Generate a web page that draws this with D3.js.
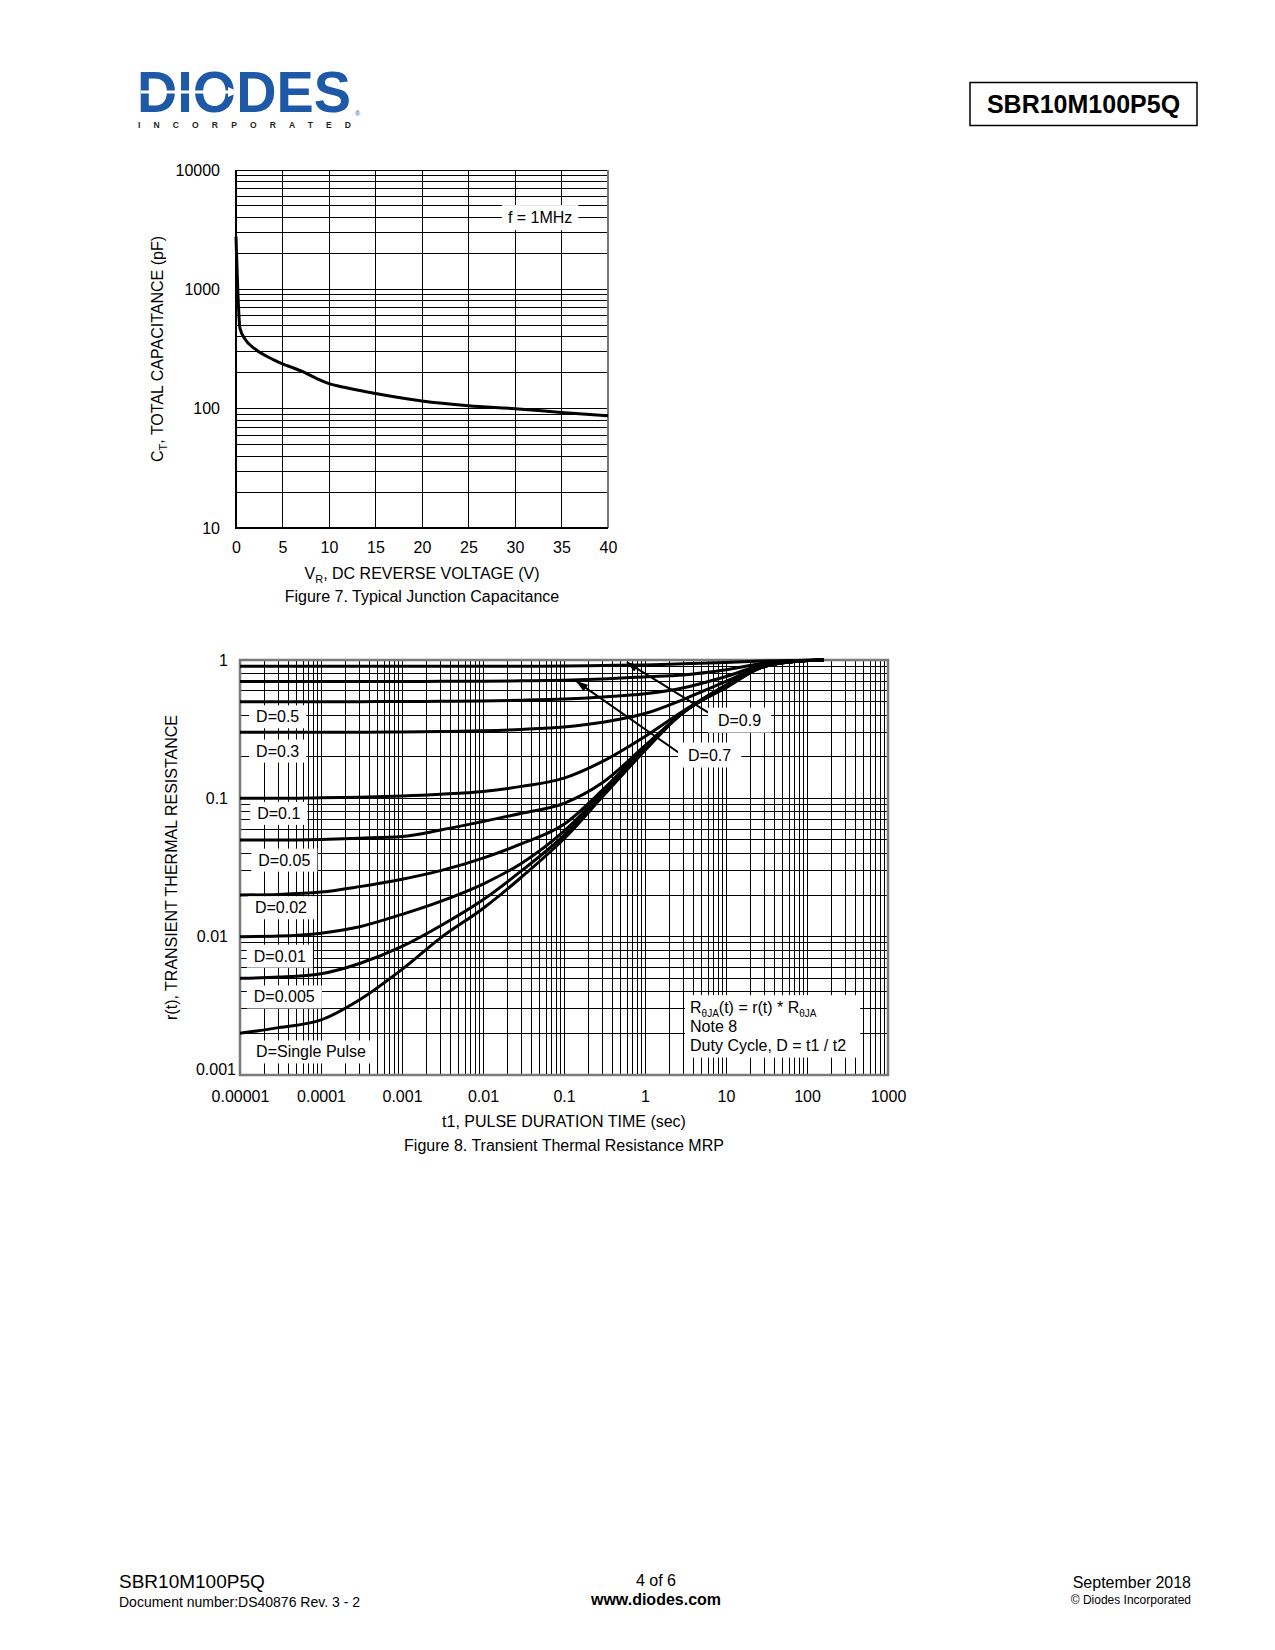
<!DOCTYPE html>
<html>
<head>
<meta charset="utf-8">
<script src="https://cdn.jsdelivr.net/npm/d3@7"></script>
<style>
  body { margin: 0; background: #fff; }
  svg { display: block; font-family: "Liberation Sans", Arial, Helvetica, sans-serif; }
</style>
</head>
<body>
<div id="page"></div>
<script>
// ---- Figure 7 data (junction capacitance) ----
var capVolt = [0, 0.43, 1, 2, 3, 4, 5, 6, 7, 8, 9, 10, 12, 15, 20, 25, 30, 35, 40];
var capPF   = [2750, 470, 380, 318, 283, 258, 237, 222, 207, 190, 174, 162, 149, 134, 116, 106, 100, 93, 87];
var capXTicks = [0, 5, 10, 15, 20, 25, 30, 35, 40];
var capYTicks = [10, 100, 1000, 10000];

// ---- Figure 8 data (transient thermal resistance) ----
var pulseTime = [0.00001, 0.00003, 0.0001, 0.0003, 0.001, 0.003, 0.01, 0.03, 0.1, 0.3, 1, 3, 10, 30, 100, 160];
var rD09   = [0.9, 0.9, 0.9, 0.9, 0.9, 0.9, 0.9, 0.902, 0.905, 0.912, 0.922, 0.94, 0.96, 0.982, 0.997, 1];
var rD07   = [0.7, 0.7, 0.7, 0.7, 0.7, 0.701, 0.703, 0.707, 0.715, 0.73, 0.755, 0.78, 0.85, 0.95, 0.995, 1];
var rD05   = [0.5, 0.5, 0.5, 0.5, 0.501, 0.503, 0.506, 0.512, 0.522, 0.54, 0.57, 0.63, 0.76, 0.93, 0.993, 1];
var rD03   = [0.3, 0.3, 0.3, 0.3, 0.302, 0.304, 0.308, 0.315, 0.328, 0.355, 0.41, 0.52, 0.7, 0.91, 0.99, 1];
var rD01   = [0.1, 0.1, 0.101, 0.102, 0.104, 0.107, 0.112, 0.122, 0.14, 0.185, 0.28, 0.43, 0.66, 0.9, 0.99, 1];
var rD005  = [0.05, 0.05, 0.0505, 0.0515, 0.053, 0.059, 0.068, 0.078, 0.092, 0.13, 0.24, 0.42, 0.65, 0.9, 0.99, 1];
var rD002  = [0.02, 0.0202, 0.021, 0.023, 0.026, 0.03, 0.037, 0.047, 0.065, 0.115, 0.235, 0.42, 0.645, 0.9, 0.99, 1];
var rD001  = [0.01, 0.0101, 0.0106, 0.0118, 0.0145, 0.018, 0.024, 0.034, 0.058, 0.11, 0.23, 0.42, 0.64, 0.9, 0.99, 1];
var rD0005 = [0.005, 0.0051, 0.0054, 0.0064, 0.0085, 0.012, 0.0185, 0.03, 0.054, 0.106, 0.226, 0.42, 0.635, 0.9, 0.99, 1];
var rSingle = [0.002, 0.0022, 0.0025, 0.0035, 0.0058, 0.0098, 0.016, 0.027, 0.051, 0.103, 0.222, 0.42, 0.63, 0.9, 0.99, 1];
var rSeries = [rD09, rD07, rD05, rD03, rD01, rD005, rD002, rD001, rD0005, rSingle];

var rthXTicks  = [0.00001, 0.0001, 0.001, 0.01, 0.1, 1, 10, 100, 1000];
var rthXLabels = ["0.00001", "0.0001", "0.001", "0.01", "0.1", "1", "10", "100", "1000"];
var rthYTicks  = [0.001, 0.01, 0.1, 1];
var rthYLabels = ["0.001", "0.01", "0.1", "1"];

// curve labels: text, t (left edge), r (centre)
var curveLabels = ["D=0.5", "D=0.3", "D=0.1", "D=0.05", "D=0.02", "D=0.01", "D=0.005", "D=Single Pulse"];
var curveLabelT = [0.0000158, 0.0000158, 0.0000163, 0.0000168, 0.0000153, 0.0000148, 0.0000148, 0.0000158];
var curveLabelR = [0.389, 0.22, 0.078, 0.0358, 0.0162, 0.00724, 0.00367, 0.00147];
// arrow labels
var arrowLabels = ["D=0.9", "D=0.7"];
var arrowLabelT = [7.96, 3.4];
var arrowLabelR = [0.368, 0.206];
var arrowTail = [[7.3, 0.39], [2.7, 0.211]];
var arrowTip  = [[0.6, 0.96], [0.144, 0.697]];

var svg = d3.select("#page").append("svg")
    .attr("width", 1275)
    .attr("height", 1650);

// ---------- header ----------
var logo = svg.append("g");
logo.append("text")
    .attr("x", 137).attr("y", 112)
    .attr("font-size", 57).attr("font-weight", 700)
    .attr("textLength", 214).attr("lengthAdjust", "spacingAndGlyphs")
    .attr("fill", "#1d59a6")
    .text("DIODES");
logo.append("line")
    .attr("x1", 141).attr("x2", 232).attr("y1", 92).attr("y2", 92)
    .attr("stroke", "#fff").attr("stroke-width", 3);
logo.append("path")
    .attr("d", "M228,87 L239,92 L228,97 Z")
    .attr("fill", "#fff");
logo.append("text")
    .attr("x", 138).attr("y", 128)
    .attr("font-size", 8.5).attr("font-weight", 700)
    .attr("textLength", 213).attr("lengthAdjust", "spacing")
    .attr("fill", "#231f20")
    .text("INCORPORATED");
logo.append("text")
    .attr("x", 355).attr("y", 116)
    .attr("font-size", 7).attr("fill", "#1d59a6")
    .text("®");

svg.append("rect")
    .attr("x", 970).attr("y", 82.5).attr("width", 227).attr("height", 43)
    .attr("fill", "none").attr("stroke", "#000").attr("stroke-width", 1.5);
svg.append("text")
    .attr("x", 1083.5).attr("y", 112.5)
    .attr("text-anchor", "middle")
    .attr("font-size", 25).attr("font-weight", 700)
    .text("SBR10M100P5Q");

// ---------- helper: text on a white box ----------
function boxedText(g, x, y, txt, padX, padY, anchor) {
    var r = g.append("rect").attr("fill", "#fff");
    var t = g.append("text")
        .attr("x", x).attr("y", y)
        .attr("dy", "0.35em")
        .attr("font-size", 16)
        .attr("text-anchor", anchor || "start")
        .text(txt);
    var b = t.node().getBBox();
    r.attr("x", b.x - padX).attr("y", b.y - padY)
        .attr("width", b.width + 2 * padX).attr("height", b.height + 2 * padY);
    return t;
}

// ========== Figure 7 ==========
var cap = {left: 236, top: 170, width: 372, height: 358};
var capX = d3.scaleLinear().domain([0, 40]).range([0, cap.width]);
var capY = d3.scaleLog().domain([10, 10000]).range([cap.height, 0]);

var g1 = svg.append("g")
    .attr("transform", "translate(" + cap.left + "," + cap.top + ")");

g1.append("g").selectAll("line")
    .data(capY.ticks())
    .enter().append("line")
        .attr("x1", 0).attr("x2", cap.width)
        .attr("y1", function(d) { return capY(d); })
        .attr("y2", function(d) { return capY(d); })
        .attr("stroke", "#000").attr("stroke-width", 1)
        .attr("shape-rendering", "crispEdges");

g1.append("g").selectAll("line")
    .data(capXTicks)
    .enter().append("line")
        .attr("x1", function(d) { return capX(d); })
        .attr("x2", function(d) { return capX(d); })
        .attr("y1", 0).attr("y2", cap.height)
        .attr("stroke", "#000").attr("stroke-width", 1)
        .attr("shape-rendering", "crispEdges");

// frame
g1.append("line").attr("x1", cap.width).attr("x2", cap.width).attr("y1", 0).attr("y2", cap.height)
    .attr("stroke", "#777").attr("stroke-width", 2);
g1.append("line").attr("x1", 0).attr("x2", 0).attr("y1", 0).attr("y2", cap.height + 1)
    .attr("stroke", "#000").attr("stroke-width", 2);
g1.append("line").attr("x1", 0).attr("x2", cap.width).attr("y1", cap.height).attr("y2", cap.height)
    .attr("stroke", "#000").attr("stroke-width", 2);

boxedText(g1, capX(32.7), capY(4000), "f = 1MHz", 6, 4, "middle");

g1.append("path")
    .datum(d3.range(capVolt.length))
    .attr("fill", "none")
    .attr("stroke", "#000")
    .attr("stroke-width", 3)
    .attr("stroke-linejoin", "round")
    .attr("d", d3.line()
        .x(function(i) { return capX(capVolt[i]); })
        .y(function(i) { return capY(capPF[i]); })
        .curve(d3.curveMonotoneX));

var capXAxis = g1.append("g")
    .attr("transform", "translate(0," + cap.height + ")")
    .call(d3.axisBottom(capX).tickValues(capXTicks).tickSize(0).tickPadding(14).tickFormat(d3.format("d")));
var capYAxis = g1.append("g")
    .call(d3.axisLeft(capY).tickValues(capYTicks).tickSize(0).tickPadding(16).tickFormat(d3.format("d")));
[capXAxis, capYAxis].forEach(function(a) {
    a.select(".domain").remove();
    a.attr("font-family", null).attr("font-size", null);
    a.selectAll("text").attr("font-size", 16).attr("fill", "#000");
});

var capTitleY = g1.append("text")
    .attr("transform", "translate(-73," + (cap.height / 2) + ") rotate(-90)")
    .attr("text-anchor", "middle")
    .attr("font-size", 16);
capTitleY.append("tspan").text("C");
capTitleY.append("tspan").attr("font-size", 11).attr("dy", 4).text("T");
capTitleY.append("tspan").attr("dy", -4).text(", TOTAL CAPACITANCE (pF)");

var capTitleX = g1.append("text")
    .attr("x", cap.width / 2).attr("y", cap.height + 51)
    .attr("text-anchor", "middle")
    .attr("font-size", 16);
capTitleX.append("tspan").text("V");
capTitleX.append("tspan").attr("font-size", 11).attr("dy", 4).text("R");
capTitleX.append("tspan").attr("dy", -4).text(", DC REVERSE VOLTAGE (V)");

g1.append("text")
    .attr("x", cap.width / 2).attr("y", cap.height + 74)
    .attr("text-anchor", "middle")
    .attr("font-size", 16)
    .text("Figure 7. Typical Junction Capacitance");

// ========== Figure 8 ==========
var rth = {left: 240, top: 660, width: 648, height: 415};
var rthX = d3.scaleLog().domain([0.00001, 1000]).range([0, rth.width]);
var rthY = d3.scaleLog().domain([0.001, 1]).range([rth.height, 0]);

var g2 = svg.append("g")
    .attr("transform", "translate(" + rth.left + "," + rth.top + ")");

g2.append("g").selectAll("line")
    .data(rthY.ticks())
    .enter().append("line")
        .attr("x1", 0).attr("x2", rth.width)
        .attr("y1", function(d) { return rthY(d); })
        .attr("y2", function(d) { return rthY(d); })
        .attr("stroke", "#000").attr("stroke-width", 1)
        .attr("shape-rendering", "crispEdges");

g2.append("g").selectAll("line")
    .data(rthX.ticks())
    .enter().append("line")
        .attr("x1", function(d) { return rthX(d); })
        .attr("x2", function(d) { return rthX(d); })
        .attr("y1", 0).attr("y2", rth.height)
        .attr("stroke", "#000").attr("stroke-width", 1)
        .attr("shape-rendering", "crispEdges");

g2.append("rect")
    .attr("x", 0).attr("y", 0).attr("width", rth.width).attr("height", rth.height)
    .attr("fill", "none").attr("stroke", "#7a7a7a").attr("stroke-width", 2.5);

var rthLine = d3.line()
    .x(function(d) { return rthX(d[0]); })
    .y(function(d) { return rthY(d[1]); })
    .curve(d3.curveMonotoneX);

g2.append("g").selectAll("path")
    .data(rSeries)
    .enter().append("path")
        .attr("fill", "none")
        .attr("stroke", "#000")
        .attr("stroke-width", 3)
        .attr("stroke-linejoin", "round")
        .attr("d", function(s) { return rthLine(s.map(function(v, i) { return [pulseTime[i], v]; })); });

// arrows
svg.append("defs").append("marker")
    .attr("id", "arrowhead")
    .attr("markerUnits", "userSpaceOnUse")
    .attr("markerWidth", 12).attr("markerHeight", 8)
    .attr("refX", 11).attr("refY", 4)
    .attr("orient", "auto")
    .append("path")
        .attr("d", "M0,0 L12,4 L0,8 Z")
        .attr("fill", "#000");

g2.append("g").selectAll("line")
    .data(d3.range(arrowTail.length))
    .enter().append("line")
        .attr("x1", function(i) { return rthX(arrowTail[i][0]); })
        .attr("y1", function(i) { return rthY(arrowTail[i][1]); })
        .attr("x2", function(i) { return rthX(arrowTip[i][0]); })
        .attr("y2", function(i) { return rthY(arrowTip[i][1]); })
        .attr("stroke", "#000").attr("stroke-width", 2)
        .attr("marker-end", "url(#arrowhead)");

curveLabels.forEach(function(txt, i) {
    boxedText(g2, rthX(curveLabelT[i]), rthY(curveLabelR[i]), txt, 7, 3);
});
arrowLabels.forEach(function(txt, i) {
    boxedText(g2, rthX(arrowLabelT[i]), rthY(arrowLabelR[i]), txt, 10, 4);
});

// note box
var note = g2.append("g");
var noteBg = note.append("rect").attr("fill", "#fff");
var noteX = rthX(3.6), noteY = rthY(0.0028);
var n1 = note.append("text").attr("x", noteX).attr("y", noteY).attr("font-size", 16);
n1.append("tspan").text("R");
n1.append("tspan").attr("font-size", 10).attr("dy", 4).text("θJA");
n1.append("tspan").attr("dy", -4).text("(t) = r(t) * R");
n1.append("tspan").attr("font-size", 10).attr("dy", 4).text("θJA");
note.append("text").attr("x", noteX).attr("y", noteY + 19).attr("font-size", 16).text("Note 8");
note.append("text").attr("x", noteX).attr("y", noteY + 37.5).attr("font-size", 16).text("Duty Cycle, D = t1 / t2");
var nb = note.node().getBBox();
noteBg.attr("x", nb.x - 5).attr("y", nb.y - 4).attr("width", nb.width + 19).attr("height", nb.height + 8);

var rthXAxis = g2.append("g")
    .attr("transform", "translate(0," + rth.height + ")")
    .call(d3.axisBottom(rthX).tickValues(rthXTicks).tickSize(0).tickPadding(16)
        .tickFormat(function(d, i) { return rthXLabels[i]; }));
var rthYAxis = g2.append("g")
    .call(d3.axisLeft(rthY).tickValues(rthYTicks).tickSize(0).tickPadding(12)
        .tickFormat(function(d, i) { return rthYLabels[i]; }));
[rthXAxis, rthYAxis].forEach(function(a) {
    a.select(".domain").remove();
    a.attr("font-family", null).attr("font-size", null);
    a.selectAll("text").attr("font-size", 16).attr("fill", "#000");
});
rthYAxis.selectAll("text").filter(function(d) { return d === 0.001; })
    .attr("x", -4).attr("dy", "-0.05em");

g2.append("text")
    .attr("transform", "translate(-63," + (rth.height / 2) + ") rotate(-90)")
    .attr("text-anchor", "middle")
    .attr("font-size", 16)
    .text("r(t), TRANSIENT THERMAL RESISTANCE");

g2.append("text")
    .attr("x", rth.width / 2).attr("y", rth.height + 52)
    .attr("text-anchor", "middle")
    .attr("font-size", 16)
    .text("t1, PULSE DURATION TIME (sec)");

g2.append("text")
    .attr("x", rth.width / 2).attr("y", rth.height + 76)
    .attr("text-anchor", "middle")
    .attr("font-size", 16)
    .text("Figure 8. Transient Thermal Resistance MRP");

// ---------- footer ----------
var foot = svg.append("g").attr("font-size", 14);
foot.append("text").attr("x", 119).attr("y", 1588).attr("font-size", 19).text("SBR10M100P5Q");
foot.append("text").attr("x", 119).attr("y", 1607).text("Document number:DS40876 Rev. 3 - 2");
foot.append("text").attr("x", 656).attr("y", 1586).attr("text-anchor", "middle").attr("font-size", 16).text("4 of 6");
foot.append("text").attr("x", 656).attr("y", 1605).attr("text-anchor", "middle").attr("font-size", 16)
    .attr("font-weight", 700).text("www.diodes.com");
foot.append("text").attr("x", 1191).attr("y", 1588).attr("text-anchor", "end").attr("font-size", 16).text("September 2018");
foot.append("text").attr("x", 1191).attr("y", 1604).attr("text-anchor", "end").attr("font-size", 12).text("© Diodes Incorporated");
</script>
</body>
</html>
